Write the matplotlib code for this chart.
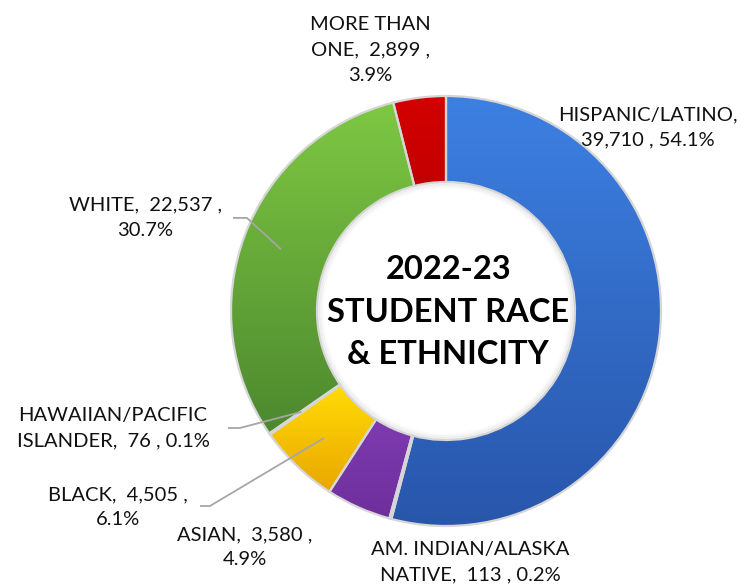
import numpy as np
import matplotlib
matplotlib.use("Agg")
import matplotlib.pyplot as plt
from matplotlib.colors import LinearSegmentedColormap

# ================= DATA =================
groups = [
    "HISPANIC/LATINO",
    "AM. INDIAN/ALASKA NATIVE",
    "ASIAN",
    "BLACK",
    "HAWAIIAN/PACIFIC ISLANDER",
    "WHITE",
    "MORE THAN ONE",
]
counts = [39710, 113, 3580, 4505, 76, 22537, 2899]
percents = [54.1, 0.2, 4.9, 6.1, 0.1, 30.7, 3.9]

# label text as it is broken over lines
label_text = [
    "HISPANIC/LATINO,\n{c} , {p}%",
    "AM. INDIAN/ALASKA\nNATIVE,  {c} , {p}%",
    "ASIAN,  {c} ,\n{p}%",
    "BLACK,  {c} ,\n{p}%",
    "HAWAIIAN/PACIFIC\nISLANDER,  {c} , {p}%",
    "WHITE,  {c} ,\n{p}%",
    "MORE THAN\nONE,  {c} ,\n{p}%",
]

# (top colour, bottom colour) gradient for each slice
fills = [
    ("#3d80e2", "#2856ab"),
    ("#f08a3c", "#e0702a"),
    ("#7d3bb0", "#6e2f9c"),
    ("#ffdc05", "#eaa600"),
    ("#6aa8e0", "#4f8fcc"),
    ("#7ec843", "#4d882e"),
    ("#d40000", "#c20000"),
]

# ================= LAYOUT =================
W, H = 741, 585
CX, CY, R = 446, 311, 215   # ring centre and radius in pixels

label_pos = [
    (0.940, 0.856),
    (0.112, -1.167),
    (-0.935, -1.098),
    (-1.526, -0.912),
    (-1.549, -0.544),
    (-1.400, 0.433),
    (-0.353, 1.214),
]
# start of the leader line (text side) for slices with one
leader_start = {
    3: [(-1.144, -0.907), (-1.098, -0.907)],
    4: [(-1.014, -0.544), (-0.958, -0.544)],
    5: [(-0.991, 0.433), (-0.926, 0.433)],
}

plt.rcParams["font.family"] = ["Lato", "DejaVu Sans"]

fig = plt.figure(figsize=(W / 100, H / 100), dpi=100)
ax = fig.add_axes([0, 0, 1, 1])

wedges, _ = ax.pie(
    counts,
    startangle=90,
    counterclock=False,
    radius=1,
    wedgeprops=dict(width=0.4, edgecolor="#d6d6d6", linewidth=1.6),
)

# gradient fill for each slice, clipped to the wedge
grad = np.linspace(0, 1, 256).reshape(-1, 1)
for w, (top, bot) in zip(wedges, fills):
    ext = w.get_path().get_extents()
    cmap = LinearSegmentedColormap.from_list("g", [bot, top])
    im = ax.imshow(grad, cmap=cmap, origin="lower", aspect="auto",
                   extent=(ext.x0, ext.x1, ext.y0, ext.y1), zorder=1,
                   interpolation="bilinear")
    im.set_clip_path(w)
    w.set_facecolor("none")
    w.set_zorder(2)

# soft shadow just inside the hole
for k, a in enumerate([0.10, 0.06, 0.03]):
    ring = plt.Circle((0, 0), 0.6 - 0.008 * (k + 1), fill=False,
                      ec="#808080", lw=2.0, alpha=a, zorder=1.5)
    ax.add_patch(ring)

# data labels
for i, w in enumerate(wedges):
    txt = label_text[i].format(c=f"{counts[i]:,}", p=percents[i])
    x, y = label_pos[i]
    ax.text(x, y, txt, ha="center", va="center", fontsize=14.5,
            color="#111111", linespacing=1.58, zorder=5)
    if i in leader_start:
        mid = np.deg2rad((w.theta1 + w.theta2) / 2)
        end = (0.82 * np.cos(mid), 0.82 * np.sin(mid))
        pts = leader_start[i] + [end]
        xs, ys = zip(*pts)
        ax.plot(xs, ys, color="#a6a6a6", lw=1.3, zorder=4,
                solid_capstyle="butt")

ax.text(0.01, -0.005, "2022-23\nSTUDENT RACE\n& ETHNICITY", ha="center",
        va="center", fontsize=23.5, fontweight="bold", color="#000000",
        linespacing=1.55, zorder=5)

ax.set_xlim(-CX / R, (W - CX) / R)
ax.set_ylim(-(H - CY) / R, CY / R)
ax.set_aspect("equal")
ax.axis("off")

fig.savefig("out.png", dpi=100, facecolor="white")
plt.close(fig)
